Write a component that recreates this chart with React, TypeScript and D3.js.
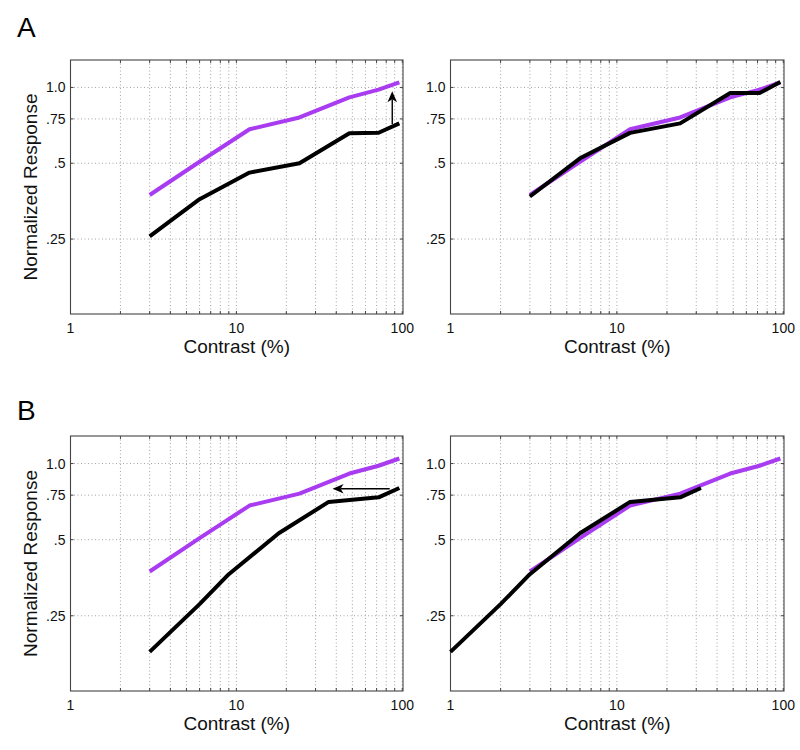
import React from "react";
import * as d3 from "d3";

// ---- data ----
const contrasts = [3, 6, 12, 24, 48, 72, 96];
const purpleResp = [0.374, 0.507, 0.682, 0.76, 0.913, 0.98, 1.047];
const aBlackLeft = [0.256, 0.36, 0.459, 0.5, 0.658, 0.661, 0.72];
const aBlackRight = [0.369, 0.523, 0.66, 0.72, 0.95, 0.95, 1.05];
const bContrastsLeft = [3, 6, 9, 18, 36, 72, 96];
const bContrastsRight = [1, 2, 3, 6, 12, 24, 32];
const bBlack = [0.18, 0.278, 0.365, 0.53, 0.705, 0.735, 0.8];

const xTickValues = [1, 10, 100];
const xTickLabels = ["1", "10", "100"];
const xMinor = [2, 3, 4, 5, 6, 7, 8, 9, 20, 30, 40, 50, 60, 70, 80, 90, 100];
const yTickValues = [0.25, 0.5, 0.75, 1.0];
const yTickLabels = [".25", ".5", ".75", "1.0"];

// arrows: [contrastFrom, respFrom, contrastTo, respTo]
const arrowA = [87, 0.715, 87, 0.965];
const arrowB = [84, 0.795, 38, 0.795];

const PURPLE = "#a93bf0";
const FONT = "Arial, 'Liberation Sans', Helvetica, sans-serif";

type Series = { x: number[]; y: number[]; color: string };

function Panel({
  x0, x1, y0, y1, series, arrow, showYLabel,
}: {
  x0: number; x1: number; y0: number; y1: number;
  series: Series[]; arrow?: number[]; showYLabel: boolean;
}) {
  const xs = d3.scaleLog().domain([1, 101]).range([x0, x1]);
  const ys = d3.scaleLog().domain([0.126, 1.285]).range([y1, y0]);
  const line = d3.line<[number, number]>().x((d) => xs(d[0])).y((d) => ys(d[1]));
  const grid = "#9a9a9a";
  let arrowEl = null;
  if (arrow) {
    const ax0 = xs(arrow[0]), ay0 = ys(arrow[1]), ax1 = xs(arrow[2]), ay1 = ys(arrow[3]);
    const ang = Math.atan2(ay1 - ay0, ax1 - ax0);
    const L = 11, W = 4.8, N = 3;
    const ux = Math.cos(ang), uy = Math.sin(ang);
    const px = -uy, py = ux;
    const bx = ax1 - ux * L, by = ay1 - uy * L;
    const nx = ax1 - ux * (L - N), ny = ay1 - uy * (L - N);
    const head = `M${ax1},${ay1} L${bx + px * W},${by + py * W} L${nx},${ny} L${bx - px * W},${by - py * W} Z`;
    arrowEl = (
      <g>
        <line x1={ax0} y1={ay0} x2={nx} y2={ny} stroke="#000" strokeWidth={1.4} />
        <path d={head} fill="#000" />
      </g>
    );
  }
  return (
    <g>
      {xMinor.map((v, i) => (
        <line key={"gx" + i} x1={xs(v)} x2={xs(v)} y1={y0} y2={y1} stroke={grid} strokeWidth={0.9} strokeDasharray="1 2.5" />
      ))}
      <line x1={xs(10)} x2={xs(10)} y1={y0} y2={y1} stroke={grid} strokeWidth={0.9} strokeDasharray="1 2.5" />
      {yTickValues.map((v, i) => (
        <line key={"gy" + i} x1={x0} x2={x1} y1={ys(v)} y2={ys(v)} stroke={grid} strokeWidth={0.9} strokeDasharray="1 2.5" />
      ))}
      {xMinor.concat([10]).map((v, i) => (
        <g key={"tx" + i}>
          <line x1={xs(v)} x2={xs(v)} y1={y1} y2={y1 - 3} stroke="#444" strokeWidth={1} />
          <line x1={xs(v)} x2={xs(v)} y1={y0} y2={y0 + 3} stroke="#444" strokeWidth={1} />
        </g>
      ))}
      {yTickValues.map((v, i) => (
        <g key={"ty" + i}>
          <line x1={x0} x2={x0 + 3} y1={ys(v)} y2={ys(v)} stroke="#444" strokeWidth={1} />
          <line x1={x1} x2={x1 - 3} y1={ys(v)} y2={ys(v)} stroke="#444" strokeWidth={1} />
        </g>
      ))}
      <rect x={x0} y={y0} width={x1 - x0} height={y1 - y0} fill="none" stroke="#444" strokeWidth={1.1} />
      {series.map((s, i) => (
        <path key={"s" + i}
          d={line(s.x.map((xv, j) => [xv, s.y[j]] as [number, number])) || ""}
          fill="none" stroke={s.color} strokeWidth={4} strokeLinejoin="round" />
      ))}
      {arrowEl}
      {xTickValues.map((v, i) => (
        <text key={"xl" + i} x={xs(v)} y={y1 + 19} fontSize={14} fontFamily={FONT} textAnchor="middle" fill="#111">
          {xTickLabels[i]}
        </text>
      ))}
      {yTickValues.map((v, i) => (
        <text key={"yl" + i} x={x0 - 5} y={ys(v)} dy="0.36em" fontSize={14} fontFamily={FONT} textAnchor="end" fill="#111">
          {yTickLabels[i]}
        </text>
      ))}
      <text x={(x0 + x1) / 2} y={y1 + 39} fontSize={19} fontFamily={FONT} textAnchor="middle" fill="#111">
        Contrast (%)
      </text>
      {showYLabel && (
        <text transform={`translate(37,${(y0 + y1) / 2}) rotate(-90)`} fontSize={19} fontFamily={FONT} textAnchor="middle" fill="#111">
          Normalized Response
        </text>
      )}
    </g>
  );
}

export default function App() {
  const L = [70.5, 403];
  const R = [450.5, 784];
  const A = [60, 314];
  const B = [436, 691];
  return (
    <svg width={800} height={750} style={{ position: "absolute", left: 0, top: 0, background: "#fff" }}>
      <rect x={0} y={0} width={800} height={750} fill="#fff" />
      <text x={17} y={37} fontSize={28} fontFamily={FONT} fill="#000">A</text>
      <text x={17} y={420} fontSize={28} fontFamily={FONT} fill="#000">B</text>
      <Panel x0={L[0]} x1={L[1]} y0={A[0]} y1={A[1]} showYLabel={true}
        series={[{ x: contrasts, y: purpleResp, color: PURPLE }, { x: contrasts, y: aBlackLeft, color: "#000" }]}
        arrow={arrowA} />
      <Panel x0={R[0]} x1={R[1]} y0={A[0]} y1={A[1]} showYLabel={false}
        series={[{ x: contrasts, y: purpleResp, color: PURPLE }, { x: contrasts, y: aBlackRight, color: "#000" }]} />
      <Panel x0={L[0]} x1={L[1]} y0={B[0]} y1={B[1]} showYLabel={true}
        series={[{ x: contrasts, y: purpleResp, color: PURPLE }, { x: bContrastsLeft, y: bBlack, color: "#000" }]}
        arrow={arrowB} />
      <Panel x0={R[0]} x1={R[1]} y0={B[0]} y1={B[1]} showYLabel={false}
        series={[{ x: contrasts, y: purpleResp, color: PURPLE }, { x: bContrastsRight, y: bBlack, color: "#000" }]} />
    </svg>
  );
}
